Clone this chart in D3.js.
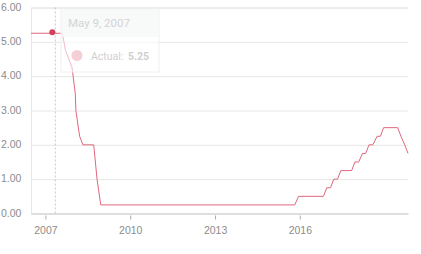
<!DOCTYPE html>
<html>
<head>
<meta charset="utf-8">
<script src="https://cdn.jsdelivr.net/npm/d3@7"></script>
<style>
  body { margin: 0; background: #fff; }
  svg { display: block; font-family: Roboto, sans-serif; }
</style>
</head>
<body>
<script>
// FOMC meeting dates (only the ones that shape the line) and upper target rate
const meetingDates = [
  "2006-06-29", "2007-05-09", "2007-08-07", "2007-09-18", "2007-10-31", "2007-12-11",
  "2008-01-22", "2008-01-30", "2008-03-18", "2008-04-30", "2008-09-16", "2008-10-08",
  "2008-10-29", "2008-12-16", "2015-10-28", "2015-12-16", "2016-11-02", "2016-12-14",
  "2017-02-01", "2017-03-15", "2017-05-03", "2017-06-14", "2017-11-01", "2017-12-13",
  "2018-01-31", "2018-03-21", "2018-05-02", "2018-06-13", "2018-08-01", "2018-09-26",
  "2018-11-08", "2018-12-19", "2019-06-19", "2019-07-31", "2019-09-18", "2019-10-30"
];
const actualRates = [
  5.25, 5.25, 5.25, 4.75, 4.50, 4.25,
  3.50, 3.00, 2.25, 2.00, 2.00, 1.50,
  1.00, 0.25, 0.25, 0.50, 0.50, 0.75,
  0.75, 1.00, 1.00, 1.25, 1.25, 1.50,
  1.50, 1.75, 1.75, 2.00, 2.00, 2.25,
  2.25, 2.50, 2.50, 2.25, 2.00, 1.75
];
const yTicks = [0, 1, 2, 3, 4, 5, 6];
const xTickYears = [2007, 2010, 2013, 2016];
const hoverIndex = 1; // May 9, 2007

const width = 421, height = 254;
const plotLeft = 31, plotRight = 408, plotTop = 7.5, plotBottom = 213.5;

const parse = d3.timeParse("%Y-%m-%d");
const data = meetingDates.map((d, i) => ({ date: parse(d), value: actualRates[i] }));

const svg = d3.select("body").append("svg")
  .attr("width", width)
  .attr("height", height);

const x = d3.scaleTime()
  .domain(d3.extent(data, d => d.date))
  .range([plotLeft, plotRight]);

const y = d3.scaleLinear()
  .domain([0, 6])
  .range([plotBottom, plotTop]);

// Gridlines + y labels
const yAxis = svg.append("g")
  .attr("transform", `translate(${plotLeft},0)`)
  .call(d3.axisLeft(y).tickValues(yTicks).tickSize(-(plotRight - plotLeft)).tickFormat(d3.format(".2f")));
yAxis.select(".domain").attr("stroke", "#e6e6e6");
yAxis.selectAll(".tick line").attr("stroke", "#e6e6e6");
yAxis.selectAll(".tick text")
  .attr("x", 1 - plotLeft)
  .attr("dy", "0.25em")
  .attr("text-anchor", "start")
  .attr("fill", "#8c8c8c")
  .attr("font-size", 10.5);

// x axis
const xAxis = svg.append("g")
  .attr("transform", `translate(0,${plotBottom})`)
  .call(d3.axisBottom(x)
    .tickValues(xTickYears.map(yr => new Date(yr, 0, 1)))
    .tickFormat(d3.timeFormat("%Y"))
    .tickSize(6)
    .tickSizeOuter(0));
xAxis.select(".domain").attr("stroke", "#dedede").attr("stroke-width", 2);
xAxis.selectAll(".tick line").attr("stroke", "#aaa").attr("y1", 2);
xAxis.selectAll(".tick text")
  .attr("y", 13)
  .attr("fill", "#8c8c8c")
  .attr("font-size", 10.5);

// crosshair
const hover = data[hoverIndex];
svg.append("line")
  .attr("x1", x(hover.date)).attr("x2", x(hover.date))
  .attr("y1", plotTop).attr("y2", plotBottom)
  .attr("stroke", "#c8c8c8")
  .attr("stroke-dasharray", "2,2");

// rate line
const line = d3.line()
  .x(d => x(d.date))
  .y(d => y(d.value));

svg.append("path")
  .datum(data)
  .attr("fill", "none")
  .attr("stroke", "#e0677c")
  .attr("stroke-width", 1)
  .attr("d", line);

svg.append("circle")
  .attr("cx", x(hover.date) - 3)
  .attr("cy", y(hover.value) - 1)
  .attr("r", 3)
  .attr("fill", "#d2405a");

// faded tooltip
const tip = svg.append("g").attr("transform", "translate(61,9)");
tip.append("rect")
  .attr("width", 98).attr("height", 63)
  .attr("fill", "#fff").attr("fill-opacity", 0.55)
  .attr("stroke", "#f0f0f0");
tip.append("rect")
  .attr("x", 0.5).attr("y", 0.5)
  .attr("width", 97).attr("height", 27.5)
  .attr("fill", "#f5f6f6").attr("fill-opacity", 0.7);
tip.append("text")
  .attr("x", 7).attr("y", 18)
  .attr("font-size", 11.5)
  .attr("fill", "#d4d4d4")
  .text(d3.timeFormat("%B %-d, %Y")(hover.date));
tip.append("circle")
  .attr("cx", 16).attr("cy", 46.5).attr("r", 5.5)
  .attr("fill", "#f4d0d6");
const bodyText = tip.append("text")
  .attr("x", 30).attr("y", 51)
  .attr("font-size", 10.5)
  .attr("fill", "#cfcfcf");
bodyText.append("tspan").text("Actual: ");
bodyText.append("tspan").attr("dx", 2).attr("font-weight", "bold").text(d3.format(".2f")(hover.value));
</script>
</body>
</html>
